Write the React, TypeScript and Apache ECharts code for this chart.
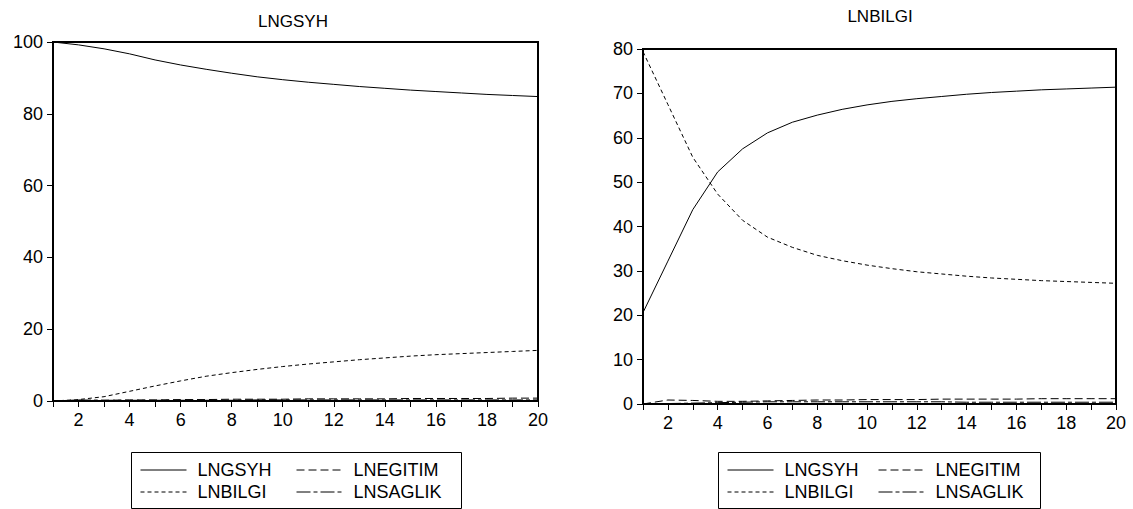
import React, { useEffect, useRef } from "react";
import * as echarts from "echarts";

const PERIODS = [1, 2, 3, 4, 5, 6, 7, 8, 9, 10, 11, 12, 13, 14, 15, 16, 17, 18, 19, 20];
const SERIES_NAMES = ["LNGSYH", "LNEGITIM", "LNBILGI", "LNSAGLIK"];

// Left panel: variance decomposition of LNGSYH
const L_LNGSYH = [100, 99.2, 98.1, 96.7, 95.0, 93.6, 92.4, 91.3, 90.3, 89.5, 88.8, 88.2, 87.6, 87.1, 86.6, 86.2, 85.8, 85.4, 85.1, 84.8];
const L_LNEGITIM = [0, 0.1, 0.2, 0.3, 0.3, 0.4, 0.4, 0.5, 0.5, 0.5, 0.6, 0.6, 0.6, 0.6, 0.7, 0.7, 0.7, 0.7, 0.8, 0.8];
const L_LNBILGI = [0, 0.4, 1.2, 2.7, 4.2, 5.6, 6.9, 7.9, 8.8, 9.6, 10.3, 10.9, 11.5, 12.0, 12.5, 12.9, 13.2, 13.5, 13.8, 14.1];
const L_LNSAGLIK = [0, 0.3, 0.2, 0.2, 0.2, 0.2, 0.2, 0.2, 0.3, 0.3, 0.3, 0.3, 0.3, 0.3, 0.3, 0.3, 0.3, 0.3, 0.3, 0.3];

// Right panel: variance decomposition of LNBILGI
const R_LNGSYH = [20.6, 32.2, 43.8, 52.3, 57.5, 61.1, 63.5, 65.1, 66.4, 67.4, 68.2, 68.8, 69.3, 69.8, 70.2, 70.5, 70.8, 71.0, 71.2, 71.4];
const R_LNEGITIM = [0, 0.9, 0.8, 0.6, 0.6, 0.7, 0.8, 0.9, 0.9, 1.0, 1.0, 1.0, 1.1, 1.1, 1.1, 1.1, 1.2, 1.2, 1.2, 1.2];
const R_LNBILGI = [79.4, 67.5, 55.6, 47.3, 41.4, 37.6, 35.3, 33.5, 32.3, 31.3, 30.5, 29.8, 29.3, 28.8, 28.4, 28.1, 27.8, 27.6, 27.4, 27.2];
const R_LNSAGLIK = [0, 0.1, 0.2, 0.3, 0.4, 0.5, 0.5, 0.5, 0.5, 0.5, 0.5, 0.5, 0.5, 0.4, 0.4, 0.4, 0.4, 0.4, 0.4, 0.4];

const LEFT_TITLE = "LNGSYH";
const RIGHT_TITLE = "LNBILGI";

const FONT = '"Liberation Sans", Arial, Helvetica, sans-serif';

const DASH: Record<string, any> = {
  LNGSYH: "solid",
  LNEGITIM: [8, 4],
  LNBILGI: [4, 3],
  LNSAGLIK: [14, 3, 4, 3],
};

function pairs(vals: number[]) {
  return PERIODS.map((p, i) => [p, vals[i]]);
}

export default function App() {
  const ref = useRef<HTMLDivElement>(null);
  useEffect(() => {
    if (!ref.current) return;
    const chart = echarts.init(ref.current, null, { renderer: "svg" });

    const leftData = [L_LNGSYH, L_LNEGITIM, L_LNBILGI, L_LNSAGLIK];
    const rightData = [R_LNGSYH, R_LNEGITIM, R_LNBILGI, R_LNSAGLIK];

    const mkSeries = (idx: number, data: number[][]) =>
      SERIES_NAMES.map((name, k) => ({
        name,
        type: "line",
        xAxisIndex: idx,
        yAxisIndex: idx,
        data: pairs(data[k]),
        symbol: "none",
        showSymbol: false,
        lineStyle: { color: "#000", width: 1, type: DASH[name] },
        itemStyle: { color: "#000" },
        z: 3,
      }));

    const xAxisCfg = (gridIndex: number) => ({
      type: "value",
      gridIndex,
      min: 1,
      max: 20,
      interval: 1,
      axisLine: { show: true, lineStyle: { color: "#000", width: 2 } },
      axisTick: { show: true, inside: false, length: 6, lineStyle: { color: "#000", width: 1 } },
      axisLabel: {
        color: "#000",
        fontSize: 18,
        fontFamily: FONT,
        margin: 10,
        showMinLabel: true,
        showMaxLabel: true,
        formatter: (v: number) => (v % 2 === 0 ? String(v) : ""),
      },
      splitLine: { show: false },
    });

    const yAxisCfg = (gridIndex: number, max: number, interval: number) => ({
      type: "value",
      gridIndex,
      min: 0,
      max,
      interval,
      axisLine: { show: true, lineStyle: { color: "#000", width: 2 } },
      axisTick: { show: true, inside: false, length: 6, lineStyle: { color: "#000", width: 1 } },
      axisLabel: { color: "#000", fontSize: 18, fontFamily: FONT, margin: 10 },
      splitLine: { show: false },
    });

    const legendText = { fontSize: 18, fontFamily: FONT, color: "#000", lineHeight: 20, padding: [0, 0, 0, 6] };
    const mkLegend = (names: string[], left: number, top: number) => ({
      data: names,
      orient: "vertical",
      left,
      top,
      padding: 0,
      itemGap: 2,
      itemWidth: 46,
      itemHeight: 10,
      selectedMode: false,
      textStyle: legendText,
      itemStyle: { opacity: 0, color: "transparent", borderWidth: 0 },
      lineStyle: { width: 1 },
    });

    const lBox = { x: 131, y: 452, w: 330, h: 56 };
    const rBox = { x: 718, y: 452, w: 322, h: 56 };

    const option: any = {
      animation: false,
      backgroundColor: "#fff",
      textStyle: { fontFamily: FONT },
      grid: [
        { left: 53, right: 1133 - 538, top: 42, bottom: 509 - 401, show: true, borderColor: "#000", borderWidth: 2, backgroundColor: "transparent" },
        { left: 643, right: 1133 - 1116, top: 49, bottom: 509 - 404, show: true, borderColor: "#000", borderWidth: 2, backgroundColor: "transparent" },
      ],
      xAxis: [xAxisCfg(0), xAxisCfg(1)],
      yAxis: [yAxisCfg(0, 100, 20), yAxisCfg(1, 80, 10)],
      legend: [
        mkLegend(["LNGSYH", "LNBILGI"], lBox.x + 9, 460),
        mkLegend(["LNEGITIM", "LNSAGLIK"], lBox.x + 165, 460),
        mkLegend(["LNGSYH", "LNBILGI"], rBox.x + 9, 460),
        mkLegend(["LNEGITIM", "LNSAGLIK"], rBox.x + 160, 460),
      ],
      graphic: [
        {
          type: "text",
          x: 293,
          y: 21,
          style: { text: LEFT_TITLE, fontSize: 17, fontFamily: FONT, fill: "#000", textAlign: "center", textVerticalAlign: "middle" },
        },
        {
          type: "text",
          x: 880,
          y: 16,
          style: { text: RIGHT_TITLE, fontSize: 17, fontFamily: FONT, fill: "#000", textAlign: "center", textVerticalAlign: "middle" },
        },
        {
          type: "rect",
          shape: { x: lBox.x + 0.5, y: lBox.y + 0.5, width: lBox.w, height: lBox.h },
          style: { fill: "transparent", stroke: "#000", lineWidth: 1 },
        },
        {
          type: "rect",
          shape: { x: rBox.x + 0.5, y: rBox.y + 0.5, width: rBox.w, height: rBox.h },
          style: { fill: "transparent", stroke: "#000", lineWidth: 1 },
        },
      ],
      series: [...mkSeries(0, leftData), ...mkSeries(1, rightData)],
    };

    chart.setOption(option);
    return () => chart.dispose();
  }, []);

  return <div ref={ref} style={{ width: 1133, height: 509, position: "absolute", left: 0, top: 0 }} />;
}
